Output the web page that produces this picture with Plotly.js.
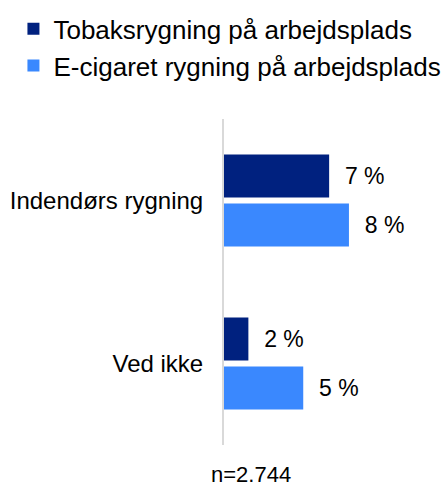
<!DOCTYPE html>
<html>
<head>
<meta charset="utf-8">
<script src="https://cdn.plot.ly/plotly-3.0.1.min.js"></script>
<style>html,body{margin:0;padding:0;background:#fff;}</style>
</head>
<body>
<div id="chart" style="width:448px;height:488px;"></div>
<script>
const categories = ["Indendørs rygning", "Ved ikke"];
const seriesNames = ["Tobaksrygning på arbejdsplads", "E-cigaret rygning på arbejdsplads"];
const tobakValues = [6.9, 1.6];
const eCigValues = [8.2, 5.2];
const tobakLabels = ["7 %", "2 %"];
const eCigLabels = ["8 %", "5 %"];
const footnote = "n=2.744";

const FONT = "Liberation Sans, Arial, sans-serif";
const pad = "\u00a0\u00a0";

const traces = [
  {
    type: "bar", orientation: "h", name: seriesNames[0],
    y: categories, x: tobakValues,
    text: tobakLabels.map(t => pad + t), textposition: "outside",
    textfont: {family: FONT, size: 23, color: "#000"},
    marker: {color: "#00217f"}, cliponaxis: false, hoverinfo: "none",
    legendgroup: "a"
  },
  {
    type: "bar", orientation: "h", name: seriesNames[1],
    y: categories, x: eCigValues,
    text: eCigLabels.map(t => pad + t), textposition: "outside",
    textfont: {family: FONT, size: 23, color: "#000"},
    marker: {color: "#3a88fe"}, cliponaxis: false, hoverinfo: "none",
    legendgroup: "b"
  }
];

const layout = {
  width: 448, height: 488,
  margin: {l: 224, r: 0, t: 119, b: 43, autoexpand: false},
  paper_bgcolor: "#fff", plot_bgcolor: "#fff",
  font: {family: FONT, size: 24, color: "#000"},
  barmode: "group", bargap: 0.4, bargroupgap: 0.12,
  showlegend: true,
  legend: {
    x: 0.03, xref: "container", y: 0.989, yref: "container", xanchor: "left", yanchor: "top",
    orientation: "v", traceorder: "normal", tracegroupgap: 12,
    font: {family: FONT, size: 26, color: "#000"},
    bgcolor: "rgba(0,0,0,0)"
  },
  xaxis: {
    range: [0, 14.7], showgrid: false, zeroline: false, showticklabels: false,
    showline: false, ticks: "", fixedrange: true
  },
  yaxis: {
    type: "category", autorange: "reversed", showgrid: false, zeroline: false,
    showline: true, linecolor: "#d9d9d9", linewidth: 2, ticks: "",
    ticklabelstandoff: 14,
    tickfont: {family: FONT, size: 24, color: "#000"}
  },
  annotations: [
    {text: footnote, xref: "paper", yref: "paper", x: 0.12, y: -0.089, xanchor: "center", yanchor: "middle",
     showarrow: false, font: {family: FONT, size: 22, color: "#000"}}
  ]
};

Plotly.newPlot("chart", traces, layout, {displayModeBar: false, staticPlot: true});
</script>
</body>
</html>
